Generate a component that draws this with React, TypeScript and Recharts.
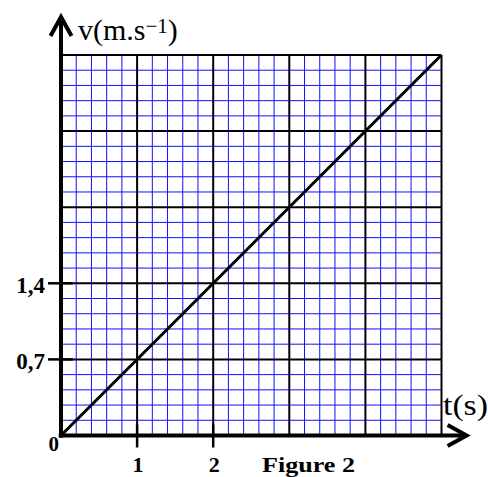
import { LineChart, Line, XAxis, YAxis, ReferenceLine } from "recharts";

// t (s) and v (m/s)
const times = [0, 5];
const velocities = [0, 3.5];

const xTicks = [1, 2];
const yTicks = [0, 0.7, 1.4];

// grid: 5 small squares per big square
const xMajor = [1, 2, 3, 4, 5];
const yMajor = [0.7, 1.4, 2.1, 2.8, 3.5];
const xMinor = Array.from({ length: 25 }, (_, i) => Math.round(i * 20) / 100).filter(
  (v, i) => i % 5 !== 0
);
const yMinor = Array.from({ length: 25 }, (_, i) => Math.round(i * 14) / 100).filter(
  (v, i) => i % 5 !== 0
);

const data = times.map((t, i) => ({ t, v: velocities[i] }));

const SERIF = "Liberation Serif";
const fmt = (v: number) => String(v).replace(".", ",");

function XTick(props: any) {
  const { x, y, payload } = props;
  return (
    <g>
      <line x1={x} y1={y - 11} x2={x} y2={y + 12} stroke="#000" strokeWidth={2.5} />
      <text x={x + 1} y={y + 36} textAnchor="middle" fontFamily={SERIF} fontWeight="bold" fontSize={22}>
        {fmt(payload.value)}
      </text>
    </g>
  );
}

function YTick(props: any) {
  const { x, y, payload } = props;
  if (payload.value === 0) {
    return (
      <text x={x - 2} y={y + 15} textAnchor="end" fontFamily={SERIF} fontWeight="bold" fontSize={21}>
        0
      </text>
    );
  }
  return (
    <g>
      <line x1={x - 13} y1={y} x2={x + 12} y2={y} stroke="#000" strokeWidth={2.5} />
      <text x={x - 16} y={y + 10} textAnchor="end" fontFamily={SERIF} fontWeight="bold" fontSize={23}>
        {fmt(payload.value)}
      </text>
    </g>
  );
}

function AxisArrow(props: any) {
  const { x1, y1, x2, y2 } = props;
  const len = Math.hypot(x2 - x1, y2 - y1) || 1;
  const ux = (x2 - x1) / len;
  const uy = (y2 - y1) / len;
  const back = 19;
  const half = 10.5;
  const pts = [
    [x2 - ux * back - uy * half, y2 - uy * back + ux * half],
    [x2, y2],
    [x2 - ux * back + uy * half, y2 - uy * back - ux * half],
  ]
    .map((p) => p.join(","))
    .join(" ");
  return (
    <g>
      <line x1={x1} y1={y1} x2={x2 - ux * 2} y2={y2 - uy * 2} stroke="#000" strokeWidth={4} />
      <polyline points={pts} fill="none" stroke="#000" strokeWidth={4} strokeLinejoin="miter" />
    </g>
  );
}

export default function App() {
  return (
    <div style={{ position: "absolute", left: 0, top: 0 }}>
      <LineChart
        width={488}
        height={477}
        data={data}
        margin={{ top: 55, right: 46.5, bottom: 11.5, left: 21 }}
      >
        <XAxis
          dataKey="t"
          type="number"
          domain={[0, 5]}
          ticks={xTicks}
          axisLine={false}
          tickLine={false}
          tickSize={0}
          tickMargin={0}
          height={30}
          tick={<XTick />}
          interval={0}
        />
        <YAxis
          type="number"
          domain={[0, 3.5]}
          ticks={yTicks}
          axisLine={false}
          tickLine={false}
          tickSize={0}
          tickMargin={0}
          width={40}
          tick={<YTick />}
          interval={0}
        />

        {xMinor.map((v) => (
          <ReferenceLine key={`xm-${v}`} x={v} stroke="#1010ff" strokeWidth={1} />
        ))}
        {yMinor.map((v) => (
          <ReferenceLine key={`ym-${v}`} y={v} stroke="#1010ff" strokeWidth={1} />
        ))}
        {xMajor.map((v) => (
          <ReferenceLine key={`xM-${v}`} x={v} stroke="#000" strokeWidth={2} />
        ))}
        {yMajor.map((v) => (
          <ReferenceLine key={`yM-${v}`} y={v} stroke="#000" strokeWidth={2} />
        ))}

        <Line
          type="linear"
          dataKey="v"
          stroke="#000"
          strokeWidth={3}
          dot={false}
          activeDot={false}
          isAnimationActive={false}
        />

        {/* axes with arrow heads */}
        <ReferenceLine
          segment={[{ x: -0.03, y: 0 }, { x: 5.33, y: 0 }]}
          ifOverflow="visible"
          shape={<AxisArrow />}
        />
        <ReferenceLine
          segment={[{ x: 0, y: -0.02 }, { x: 0, y: 3.85 }]}
          ifOverflow="visible"
          shape={<AxisArrow />}
        />

        <text x={78} y={40} fontFamily={SERIF} fontSize={30}>
          v(m.s
          <tspan dy={-7} fontSize={21}>
            −1
          </tspan>
          <tspan dy={7}>)</tspan>
        </text>
        <text x={443} y={415} fontFamily={SERIF} fontSize={29} textLength={45} lengthAdjust="spacingAndGlyphs">
          t(s)
        </text>
        <text x={262} y={472} fontFamily={SERIF} fontWeight="bold" fontSize={21} textLength={93} lengthAdjust="spacingAndGlyphs">
          Figure 2
        </text>
      </LineChart>
    </div>
  );
}
